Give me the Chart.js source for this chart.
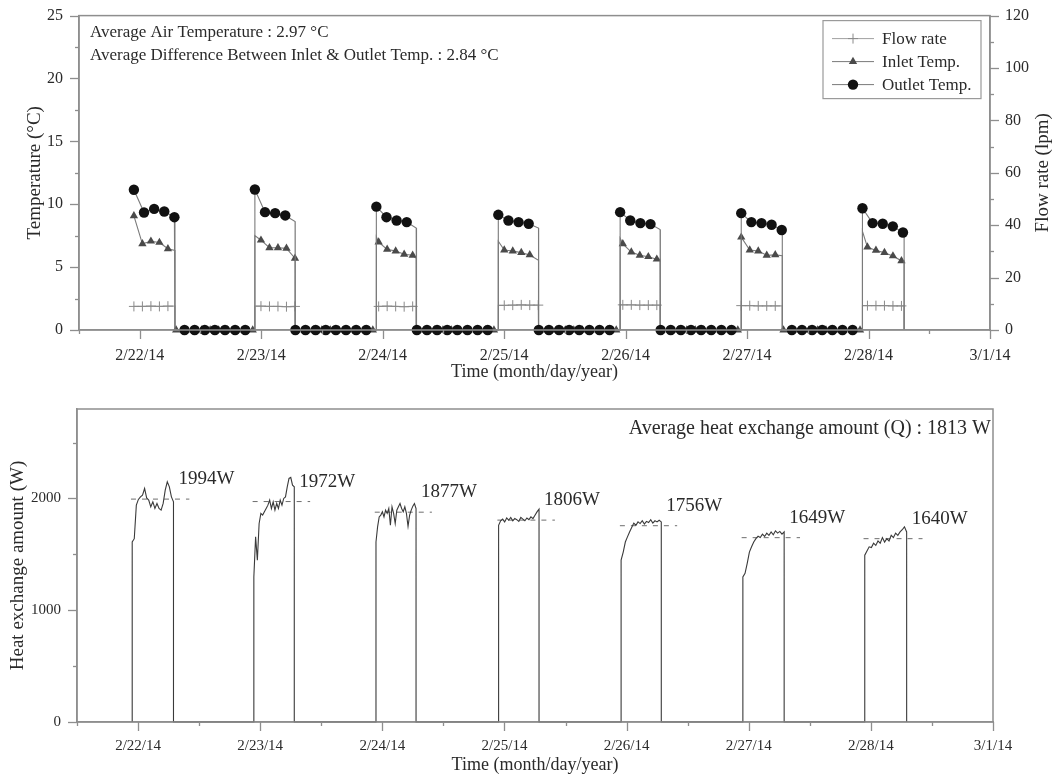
<!DOCTYPE html>
<html>
<head>
<meta charset="utf-8">
<title>Heat exchanger night runs</title>
<script src="https://cdn.jsdelivr.net/npm/chart.js@4.4.0/dist/chart.umd.min.js"></script>
<style>
  html, body { margin: 0; padding: 0; background: #fff; }
  #wrap { position: relative; width: 1055px; height: 777px; }
  #tempChart { position: absolute; left: 0; top: 0; }
  #heatChart { position: absolute; left: 0; top: 384px; }
</style>
</head>
<body>
<div id="wrap">
  <canvas id="tempChart" width="1055" height="384"></canvas>
  <canvas id="heatChart" width="1055" height="393"></canvas>
</div>
<script>
// x values are days of February 2014 (22 = 2/22/14 00:00, 29 = 3/1/14 00:00)
const dayLabels = ['2/22/14', '2/23/14', '2/24/14', '2/25/14', '2/26/14', '2/27/14', '2/28/14', '3/1/14'];

// pump on / off time of each night run
const runStart = [21.952, 22.948, 23.948, 24.952, 25.955, 26.952, 27.95];
const runStop  = [22.29, 23.279, 24.276, 25.283, 26.284, 27.29, 28.293];

// outlet temperature (°C), logged every 2 h from pump start
const outletTemp = [
  [11.15, 9.34, 9.63, 9.42, 8.97],
  [11.17, 9.37, 9.29, 9.11],
  [9.81, 8.97, 8.71, 8.58],
  [9.16, 8.71, 8.58, 8.45],
  [9.37, 8.71, 8.50, 8.42],
  [9.29, 8.58, 8.50, 8.37, 7.95],
  [9.68, 8.50, 8.45, 8.24, 7.75]
];
const outletStop = [8.97, 8.63, 8.11, 8.11, 7.98, 7.95, 7.75];

// inlet temperature (°C)
const inletLag = [0, 0.05, 0.019, 0.049, 0.022, 0, 0.041];
const inletHead = [null, 7.5, 7.4, 7.06, 7.3, null, 7.85];
const inletTemp = [
  [9.08, 6.85, 7.06, 6.96, 6.46],
  [7.14, 6.54, 6.54, 6.49, 5.70],
  [6.99, 6.41, 6.28, 6.02, 5.94],
  [6.36, 6.28, 6.15, 5.97],
  [6.85, 6.20, 5.94, 5.83, 5.63],
  [7.38, 6.36, 6.28, 5.94, 5.97],
  [6.59, 6.33, 6.15, 5.89, 5.50]
];
const inletStop = [6.33, 5.70, 5.70, 5.55, 5.63, 5.90, 5.50];

// flow rate (lpm)
const flowRate = [
  [9.0, 9.0, 9.1, 9.0, 9.1],
  [9.1, 9.0, 9.0, 8.9, 9.0],
  [9.0, 9.1, 9.0, 8.9, 9.0],
  [9.4, 9.5, 9.6, 9.5, 9.5],
  [9.6, 9.6, 9.5, 9.5, 9.5],
  [9.3, 9.3, 9.2, 9.2, 9.2],
  [9.3, 9.3, 9.3, 9.2, 9.2]
];

// heat exchange amount (W) through each run, and the run averages
const heatTrace = [
  [1611, 1640, 1940, 1991, 2014, 2030, 2089, 2005, 1985, 1925, 1970, 1910, 1955, 1910, 1895, 1955, 2074, 2149, 2104, 2014, 1970],
  [1298, 1656, 1448, 1776, 1866, 1851, 1881, 1910, 1940, 1985, 1910, 1970, 1895, 1955, 1910, 1985, 1940, 2000, 2014, 2104, 2179, 2188, 2119, 2104],
  [1611, 1746, 1835, 1851, 1881, 1835, 1895, 1866, 1910, 1760, 1925, 1866, 1776, 1895, 1925, 1955, 1910, 1881, 1925, 1866, 1750, 1851, 1895, 1931, 1955, 1910],
  [1760, 1800, 1815, 1790, 1825, 1805, 1830, 1800, 1820, 1810, 1795, 1830, 1815, 1800, 1825, 1810, 1835, 1820, 1850, 1880, 1904],
  [1448, 1520, 1610, 1656, 1700, 1740, 1779, 1760, 1790, 1775, 1800, 1770, 1795, 1785, 1810, 1780, 1800, 1790, 1805, 1790],
  [1298, 1330, 1420, 1520, 1567, 1610, 1640, 1662, 1650, 1680, 1660, 1690, 1670, 1700, 1675, 1710, 1690, 1705, 1680, 1701],
  [1492, 1530, 1567, 1560, 1600, 1580, 1620, 1600, 1650, 1610, 1640, 1620, 1670, 1650, 1690, 1670, 1700, 1720, 1746, 1700]
];
const heatAvg = [1994, 1972, 1877, 1806, 1756, 1649, 1640];
const heatTicks = [0, 500, 1000, 1500, 2000, 2500];

const LOG_STEP = 1 / 12;   // 2 h between outlet markers
const INLET_STEP = 0.07;   // spacing of inlet / flow markers
const FONT = "'Liberation Serif', 'Times New Roman', serif";
const TEXT = '#2a2a2a';
const AXIS = '#8e8e8e';
const last = runStart.length - 1;

// ---- build point lists ----
const outletPts = [];
runStart.forEach((t0, i) => {
  const vals = outletTemp[i];
  if (i > 0) outletPts.push({ x: t0, y: 0, bare: true });
  vals.forEach((v, j) => outletPts.push({ x: t0 + j * LOG_STEP, y: v }));
  outletPts.push({ x: runStop[i], y: outletStop[i], bare: true });
  outletPts.push({ x: runStop[i], y: 0, bare: true });
  if (i < last) {
    for (let j = vals.length; j < 12; j++) outletPts.push({ x: t0 + j * LOG_STEP, y: 0 });
  }
});

const inletPts = [];
runStart.forEach((t0, i) => {
  const t1 = t0 + inletLag[i];
  if (i > 0) inletPts.push({ x: t0, y: 0, bare: true });
  if (inletHead[i] !== null) inletPts.push({ x: t0, y: inletHead[i], bare: true });
  inletTemp[i].forEach((v, j) => inletPts.push({ x: t1 + j * INLET_STEP, y: v }));
  inletPts.push({ x: runStop[i], y: inletStop[i], bare: true });
  inletPts.push({ x: runStop[i], y: 0, bare: true });
  if (i < last) {
    for (let t = runStop[i] + 0.01; t < runStart[i + 1] - 0.005; t += INLET_STEP) inletPts.push({ x: t, y: 0 });
  }
});

const flowPts = [];
runStart.forEach((t0, i) => {
  const t1 = t0 + inletLag[i];
  const vals = flowRate[i];
  if (i > 0) flowPts.push({ x: t0, y: 0, bare: true });
  flowPts.push({ x: t0, y: vals[0], bare: true });
  vals.forEach((v, j) => flowPts.push({ x: t1 + j * INLET_STEP, y: v }));
  flowPts.push({ x: runStop[i], y: vals[vals.length - 1], bare: true });
  flowPts.push({ x: runStop[i], y: 0, bare: true });
});

const heatPts = [];
const avgPts = [];
runStart.forEach((t0, i) => {
  const vals = heatTrace[i];
  const dt = (runStop[i] - t0) / (vals.length - 1);
  heatPts.push({ x: t0, y: 0 });
  vals.forEach((v, k) => heatPts.push({ x: t0 + k * dt, y: v }));
  heatPts.push({ x: runStop[i], y: 0 });
  avgPts.push({ x: t0 - 0.01, y: heatAvg[i] }, { x: runStop[i] + 0.13, y: heatAvg[i] }, { x: runStop[i] + 0.14, y: null });
});

// ---- shared helpers ----
function markerRadius(r) {
  return ctx => (ctx.raw && ctx.raw.bare) ? 0 : r;
}

function drawMarker(ctx, style, x, y, r, color) {
  ctx.fillStyle = color;
  ctx.strokeStyle = color;
  ctx.beginPath();
  if (style === 'circle') {
    ctx.arc(x, y, r, 0, Math.PI * 2);
    ctx.fill();
  } else if (style === 'triangle') {
    ctx.moveTo(x, y - r);
    ctx.lineTo(x + r * 0.866, y + r * 0.5);
    ctx.lineTo(x - r * 0.866, y + r * 0.5);
    ctx.closePath();
    ctx.fill();
  } else {
    ctx.lineWidth = 1;
    ctx.moveTo(x - r, y); ctx.lineTo(x + r, y);
    ctx.moveTo(x, y - r); ctx.lineTo(x, y + r);
    ctx.stroke();
  }
}

// major / minor tick marks: labelled ticks get long marks
const tickMarks = {
  id: 'tickMarks',
  afterDraw(chart) {
    const ctx = chart.ctx;
    ctx.save();
    ctx.strokeStyle = AXIS;
    ctx.lineWidth = 1.3;
    Object.values(chart.scales).forEach(scale => {
      scale.ticks.forEach(tick => {
        const len = tick.label === '' ? 4 : 9;
        const p = Math.round(scale.getPixelForValue(tick.value)) + 0.5;
        ctx.beginPath();
        if (scale.isHorizontal()) {
          ctx.moveTo(p, scale.top); ctx.lineTo(p, scale.top + len);
        } else if (scale.position === 'left') {
          ctx.moveTo(scale.right, p); ctx.lineTo(scale.right - len, p);
        } else {
          ctx.moveTo(scale.left, p); ctx.lineTo(scale.left + len, p);
        }
        ctx.stroke();
      });
    });
    ctx.restore();
  }
};

const frame = {
  id: 'frame',
  afterDraw(chart) {
    const { ctx, chartArea: a } = chart;
    ctx.save();
    ctx.strokeStyle = AXIS;
    ctx.lineWidth = 1.5;
    ctx.strokeRect(a.left, a.top, a.right - a.left, a.bottom - a.top);
    ctx.restore();
  }
};

// free text placed against the plot area
const notes = {
  id: 'notes',
  afterDraw(chart, args, opts) {
    const { ctx, chartArea: a } = chart;
    ctx.save();
    ctx.fillStyle = TEXT;
    ctx.textBaseline = 'middle';
    (opts.items || []).forEach(n => {
      ctx.font = n.size + 'px ' + FONT;
      ctx.textAlign = n.align || 'left';
      const x = n.align === 'right' ? a.right - n.dx : a.left + n.dx;
      ctx.fillText(n.text, x, a.top + n.dy);
    });
    ctx.restore();
  }
};

// boxed legend with line + marker samples
const boxLegend = {
  id: 'boxLegend',
  afterDraw(chart) {
    const { ctx, chartArea: a } = chart;
    const left = a.right - 167, top = a.top + 5;
    ctx.save();
    ctx.strokeStyle = '#9a9a9a';
    ctx.lineWidth = 1.2;
    ctx.strokeRect(left, top, 158, 78);
    const rows = chart.data.datasets.slice().reverse();
    rows.forEach((ds, k) => {
      const y = top + 18 + k * 23;
      ctx.strokeStyle = ds.borderColor;
      ctx.lineWidth = 1;
      ctx.beginPath();
      ctx.moveTo(left + 9, y); ctx.lineTo(left + 51, y);
      ctx.stroke();
      drawMarker(ctx, ds.pointStyle, left + 30, y, ds.pointRadius({ raw: {} }), ds.pointBackgroundColor);
      ctx.fillStyle = TEXT;
      ctx.font = '17px ' + FONT;
      ctx.textAlign = 'left';
      ctx.textBaseline = 'middle';
      ctx.fillText(ds.label, left + 59, y + 1);
    });
    ctx.restore();
  }
};

// right-hand axis title, read bottom to top
const rightTitle = {
  id: 'rightTitle',
  afterDraw(chart) {
    const { ctx, chartArea: a } = chart;
    ctx.save();
    ctx.translate(1043, (a.top + a.bottom) / 2);
    ctx.rotate(-Math.PI / 2);
    ctx.fillStyle = TEXT;
    ctx.font = '19px ' + FONT;
    ctx.textAlign = 'center';
    ctx.textBaseline = 'middle';
    ctx.fillText('Flow rate (lpm)', 0, 0);
    ctx.restore();
  }
};

// value labels next to each run average
const avgLabels = {
  id: 'avgLabels',
  afterDraw(chart) {
    const { ctx, scales } = chart;
    ctx.save();
    ctx.fillStyle = TEXT;
    ctx.font = '19px ' + FONT;
    ctx.textAlign = 'left';
    ctx.textBaseline = 'middle';
    heatAvg.forEach((v, i) => {
      const x = scales.x.getPixelForValue(runStop[i]) + 5;
      const y = scales.y.getPixelForValue(v) - 20;
      ctx.fillText(v + 'W', x, y);
    });
    ctx.restore();
  }
};

function timeAxis(height, labelSize, pad) {
  return {
    type: 'linear',
    min: 21.5,
    max: 29,
    border: { color: AXIS, width: 1.5 },
    grid: { drawOnChartArea: false, drawTicks: true, tickLength: 10, color: 'rgba(0,0,0,0)' },
    ticks: {
      stepSize: 0.5,
      autoSkip: false,
      maxRotation: 0,
      padding: pad,
      color: TEXT,
      font: { family: FONT, size: labelSize },
      callback: v => Number.isInteger(v) ? dayLabels[v - 22] : ''
    },
    title: {
      display: true,
      text: 'Time (month/day/year)',
      color: TEXT,
      font: { family: FONT, size: 18 },
      padding: { top: 0, bottom: 1 }
    },
    afterFit: s => { s.height = height; }
  };
}

// ---- temperature / flow chart ----
new Chart(document.getElementById('tempChart'), {
  type: 'line',
  data: {
    datasets: [
      {
        label: 'Outlet Temp.',
        data: outletPts,
        yAxisID: 'y',
        borderColor: '#7a7a7a',
        borderWidth: 1.1,
        pointStyle: 'circle',
        pointRadius: markerRadius(5.2),
        pointBackgroundColor: '#111',
        pointBorderColor: '#111',
        pointBorderWidth: 0,
        clip: false
      },
      {
        label: 'Inlet Temp.',
        data: inletPts,
        yAxisID: 'y',
        borderColor: '#7a7a7a',
        borderWidth: 1.1,
        pointStyle: 'triangle',
        pointRadius: markerRadius(4.8),
        pointBackgroundColor: '#4a4a4a',
        pointBorderColor: '#4a4a4a',
        pointBorderWidth: 0,
        clip: false
      },
      {
        label: 'Flow rate',
        data: flowPts,
        yAxisID: 'yFlow',
        borderColor: '#a0a0a0',
        borderWidth: 1.1,
        pointStyle: 'cross',
        pointRadius: markerRadius(5),
        pointBackgroundColor: '#8a8a8a',
        pointBorderColor: '#8a8a8a',
        pointBorderWidth: 1,
        clip: false
      }
    ]
  },
  options: {
    responsive: false,
    animation: false,
    events: [],
    layout: { padding: { top: 12, left: 0, right: 0, bottom: 0 } },
    plugins: {
      legend: { display: false },
      tooltip: { enabled: false },
      notes: {
        items: [
          { text: 'Average Air Temperature : 2.97 °C', dx: 11, dy: 17, size: 17 },
          { text: 'Average Difference Between Inlet & Outlet Temp. : 2.84 °C', dx: 11, dy: 40, size: 17 }
        ]
      }
    },
    scales: {
      x: timeAxis(54, 16, 6),
      y: {
        position: 'left',
        min: 0,
        max: 25,
        border: { color: AXIS, width: 1.5 },
        grid: { drawOnChartArea: false, tickLength: 10, color: 'rgba(0,0,0,0)' },
        ticks: {
          stepSize: 2.5,
          autoSkip: false,
          padding: 6,
          color: TEXT,
          font: { family: FONT, size: 16 },
          callback: v => v % 5 === 0 ? v : ''
        },
        title: {
          display: true,
          text: 'Temperature (°C)',
          color: TEXT,
          font: { family: FONT, size: 19 },
          padding: { top: 24, bottom: 0 }
        },
        afterFit: s => { s.width = 79; }
      },
      yFlow: {
        position: 'right',
        min: 0,
        max: 120,
        border: { color: AXIS, width: 1.5 },
        grid: { drawOnChartArea: false, tickLength: 10, color: 'rgba(0,0,0,0)' },
        ticks: {
          stepSize: 10,
          autoSkip: false,
          padding: 5,
          color: TEXT,
          font: { family: FONT, size: 16 },
          callback: v => v % 20 === 0 ? v : ''
        },
        afterFit: s => { s.width = 65; }
      }
    }
  },
  plugins: [frame, tickMarks, notes, boxLegend, rightTitle]
});

// ---- heat exchange chart ----
new Chart(document.getElementById('heatChart'), {
  type: 'line',
  data: {
    datasets: [
      {
        label: 'Heat exchange amount',
        data: heatPts,
        borderColor: '#3a3a3a',
        borderWidth: 1.1,
        pointRadius: 0,
        clip: false
      },
      {
        label: 'Run average',
        data: avgPts,
        borderColor: '#6e6e6e',
        borderWidth: 1,
        borderDash: [5, 6],
        pointRadius: 0,
        spanGaps: false,
        clip: false
      }
    ]
  },
  options: {
    responsive: false,
    animation: false,
    events: [],
    layout: { padding: { top: 25, left: 0, right: 62, bottom: 0 } },
    plugins: {
      legend: { display: false },
      tooltip: { enabled: false },
      notes: {
        items: [
          { text: 'Average heat exchange amount (Q) : 1813 W', dx: 2, dy: 20, size: 20, align: 'right' }
        ]
      }
    },
    scales: {
      x: timeAxis(55, 15, 5),
      y: {
        position: 'left',
        min: 0,
        max: 2800,
        border: { color: AXIS, width: 1.5 },
        grid: { drawOnChartArea: false, tickLength: 10, color: 'rgba(0,0,0,0)' },
        afterBuildTicks: s => { s.ticks = heatTicks.map(v => ({ value: v })); },
        ticks: {
          autoSkip: false,
          padding: 6,
          color: TEXT,
          font: { family: FONT, size: 15 },
          callback: v => v % 1000 === 0 ? v : ''
        },
        title: {
          display: true,
          text: 'Heat exchange amount (W)',
          color: TEXT,
          font: { family: FONT, size: 19 },
          padding: { top: 7, bottom: 0 }
        },
        afterFit: s => { s.width = 77; }
      }
    }
  },
  plugins: [frame, tickMarks, notes, avgLabels]
});
</script>
</body>
</html>
